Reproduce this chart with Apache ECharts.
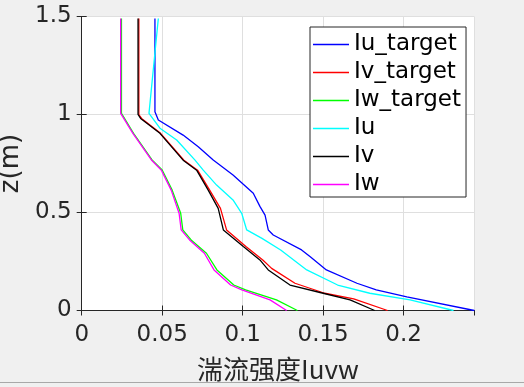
<!DOCTYPE html>
<html>
<head>
<meta charset="utf-8">
<script src="https://cdn.jsdelivr.net/npm/echarts@6/dist/echarts.min.js"></script>
<style>html,body{margin:0;padding:0;background:#f0f0f0;}#c{width:524px;height:387px;}</style>
</head>
<body>
<div id="c"></div>
<script>
// Data (x = turbulence intensity, z = height in m)
const seriesNames = ['Iu_target', 'Iv_target', 'Iw_target', 'Iu', 'Iv', 'Iw'];
const xTicks = [0, 0.05, 0.1, 0.15, 0.2];
const yTicks = [0, 0.5, 1, 1.5];

const iuTargetZ = [1.49, 1.014, 0.972, 0.895, 0.836, 0.768, 0.691, 0.598, 0.53, 0.487, 0.411, 0.385, 0.309, 0.275, 0.207, 0.139, 0.105, 0.070, 0];
const iuTargetX = [0.0455, 0.0455, 0.0476, 0.063, 0.0724, 0.0817, 0.094, 0.1066, 0.1108, 0.1139, 0.1159, 0.119, 0.1366, 0.1418, 0.152, 0.171, 0.183, 0.202, 0.2439];

const iuZ = [1.49, 1.006, 0.93, 0.87, 0.767, 0.716, 0.640, 0.564, 0.496, 0.411, 0.368, 0.309, 0.207, 0.130, 0.088, 0.054, 0];
const iuX = [0.0476, 0.0418, 0.0486, 0.059, 0.0704, 0.0755, 0.0838, 0.094, 0.0994, 0.1025, 0.112, 0.1236, 0.1398, 0.159, 0.179, 0.204, 0.231];

const ivTargetZ = [1.49, 1.0, 0.98, 0.904, 0.767, 0.716, 0.614, 0.521, 0.411, 0.326, 0.258, 0.215, 0.139, 0.088, 0.059, 0];
const ivTargetX = [0.0355, 0.0355, 0.0372, 0.049, 0.0635, 0.072, 0.0795, 0.0862, 0.090, 0.102, 0.1125, 0.118, 0.1325, 0.151, 0.169, 0.190];

const ivZ = [1.49, 1.0, 0.98, 0.904, 0.767, 0.716, 0.614, 0.521, 0.411, 0.326, 0.258, 0.207, 0.13, 0.088, 0.054, 0];
const ivX = [0.0350, 0.0350, 0.0366, 0.0486, 0.063, 0.0714, 0.0786, 0.0848, 0.088, 0.1004, 0.1107, 0.1159, 0.1294, 0.150, 0.1667, 0.182];

const iwTargetZ = [1.49, 1.006, 1.0, 0.904, 0.768, 0.717, 0.614, 0.496, 0.411, 0.36, 0.292, 0.207, 0.130, 0.105, 0.054, 0];
const iwTargetX = [0.0247, 0.0247, 0.025, 0.0322, 0.0437, 0.05, 0.0562, 0.0615, 0.0628, 0.068, 0.0775, 0.084, 0.0945, 0.1018, 0.121, 0.134];

const iwZ = [1.49, 1.006, 1.0, 0.904, 0.768, 0.717, 0.614, 0.496, 0.411, 0.36, 0.292, 0.207, 0.130, 0.105, 0.054, 0];
const iwX = [0.0242, 0.0242, 0.0246, 0.0318, 0.0433, 0.0494, 0.0556, 0.0605, 0.0618, 0.067, 0.0762, 0.0822, 0.0925, 0.0995, 0.117, 0.1273];

const colors = ['#0000ff', '#ff0000', '#00ff00', '#00ffff', '#000000', '#ff00ff'];
const xs = [iuTargetX, ivTargetX, iwTargetX, iuX, ivX, iwX];
const zs = [iuTargetZ, ivTargetZ, iwTargetZ, iuZ, ivZ, iwZ];

const pair = (x, z) => x.map((v, i) => [v, z[i]]);
const axisColor = '#262626';
const font = 'DejaVu Sans';
const xMax = Math.max(...iuTargetX);

const chart = echarts.init(document.getElementById('c'));
const tickCommon = { show: true, inside: true, length: 5, lineStyle: { color: axisColor, width: 1 } };
chart.setOption({
  backgroundColor: '#f0f0f0',
  animation: false,
  grid: { left: 81.7, right: 49.7, top: 16.5, bottom: 76.5, show: true, backgroundColor: '#ffffff', borderWidth: 0,
    containLabel: false, outerBoundsMode: 'none' },
  legend: {
    orient: 'vertical', left: 310, top: 27,
    data: seriesNames.map(n => ({ name: n, icon: 'rect' })),
    itemWidth: 36, itemHeight: 1.5, itemGap: 5,
    padding: [6, 5, 1, 3],
    backgroundColor: '#ffffff', borderColor: axisColor, borderWidth: 1, borderRadius: 0,
    textStyle: { fontFamily: font, fontSize: 23, color: '#000', lineHeight: 23 }
  },
  xAxis: [{
    type: 'value', min: 0, max: xMax, interval: 0.05, position: 'bottom',
    name: '湍流强度Iuvw', nameLocation: 'middle', nameGap: 46,
    nameTextStyle: { fontFamily: 'Noto Sans CJK SC', fontSize: 26, color: axisColor },
    axisLine: { show: true, lineStyle: { color: axisColor, width: 1 } },
    axisTick: tickCommon,
    axisLabel: { fontFamily: font, fontSize: 23, color: axisColor, margin: 13, showMaxLabel: false,
      formatter: v => xTicks.some(t => Math.abs(t - v) < 1e-9) ? String(v) : '' },
    splitLine: { show: true, lineStyle: { color: '#dfdfdf', width: 1 } }
  }, {
    type: 'value', min: 0, max: xMax, interval: 0.05, position: 'top',
    axisLine: { show: true, lineStyle: { color: axisColor, width: 1 } },
    axisTick: tickCommon, axisLabel: { show: false }, splitLine: { show: false }
  }],
  yAxis: [{
    type: 'value', min: 0, max: 1.5, interval: 0.5, position: 'left',
    name: 'z(m)', nameLocation: 'middle', nameGap: 55,
    nameTextStyle: { fontFamily: font, fontSize: 26, color: axisColor },
    axisLine: { show: true, lineStyle: { color: axisColor, width: 1 } },
    axisTick: tickCommon,
    axisLabel: { fontFamily: font, fontSize: 23, color: axisColor, margin: 10,
      formatter: v => yTicks.some(t => Math.abs(t - v) < 1e-9) ? String(v) : '' },
    splitLine: { show: true, lineStyle: { color: '#dfdfdf', width: 1 } }
  }, {
    type: 'value', min: 0, max: 1.5, interval: 0.5, position: 'right',
    axisLine: { show: true, lineStyle: { color: axisColor, width: 1 } },
    axisTick: tickCommon, axisLabel: { show: false }, splitLine: { show: false }
  }],
  graphic: [{
    type: 'line', shape: { x1: 0, y1: 382.5, x2: 524, y2: 382.5 },
    style: { stroke: '#a8a8a8', lineWidth: 1 }, silent: true
  }],
  series: seriesNames.map((n, i) => ({
    name: n, type: 'line', xAxisIndex: 0, yAxisIndex: 0,
    data: pair(xs[i], zs[i]),
    symbol: 'none', showSymbol: false,
    color: colors[i],
    lineStyle: { color: colors[i], width: 1.3 },
    itemStyle: { color: colors[i] }
  }))
});
</script>
</body>
</html>
